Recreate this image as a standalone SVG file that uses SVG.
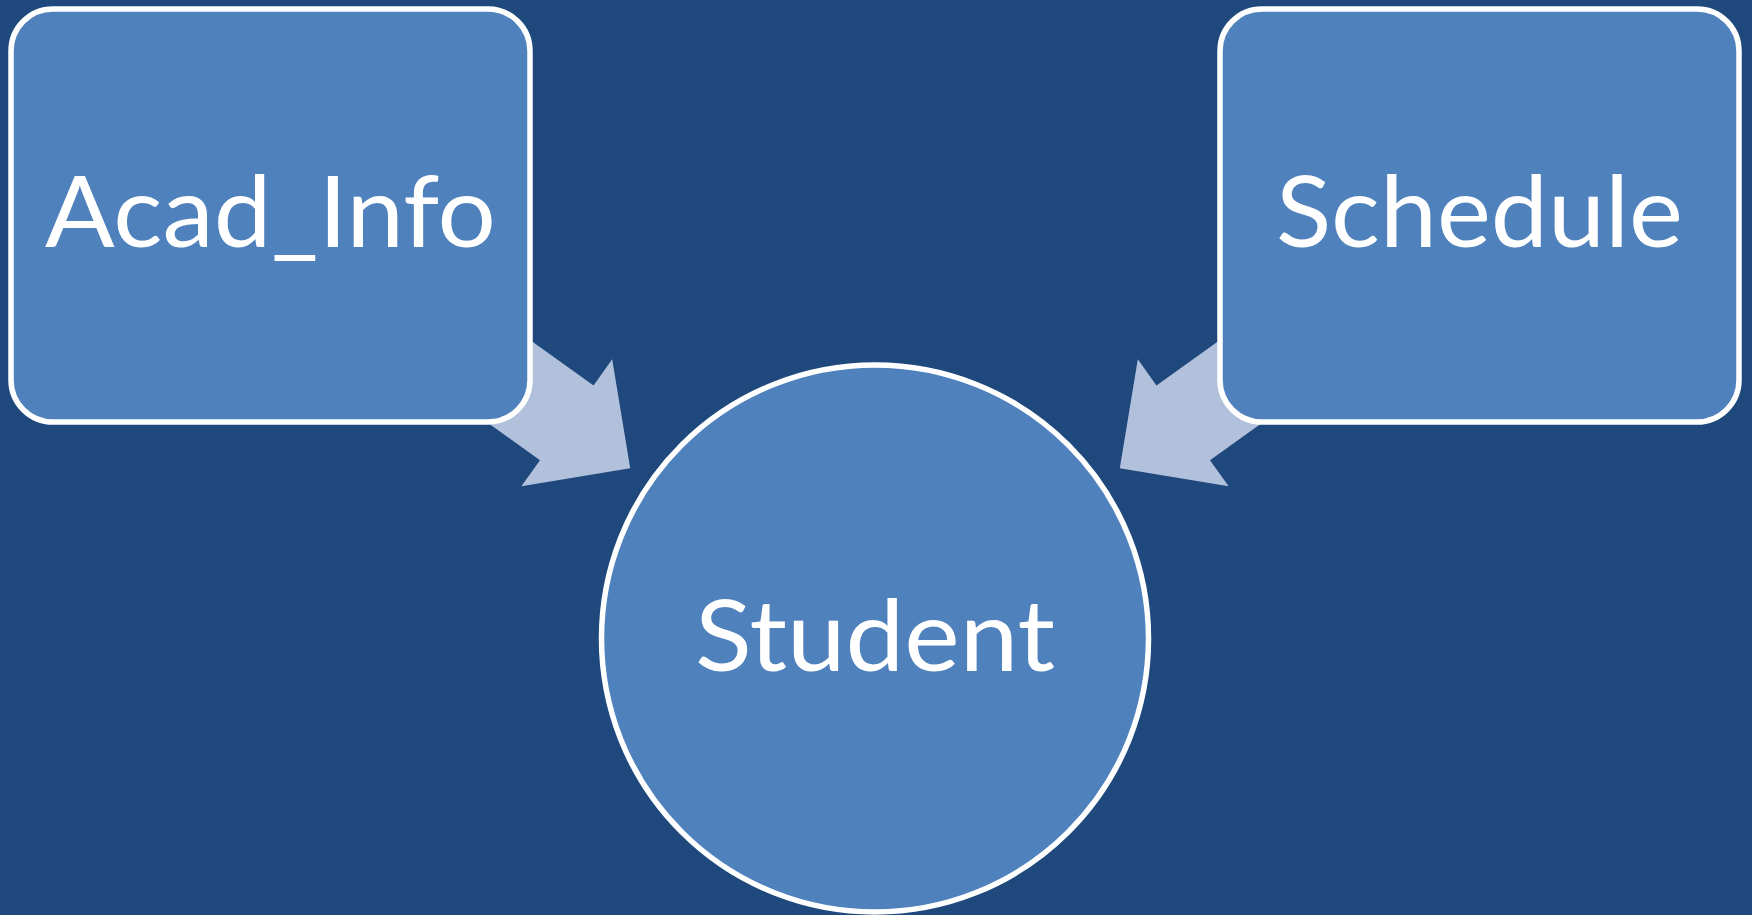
<svg xmlns="http://www.w3.org/2000/svg" width="1752" height="915" viewBox="0 0 1752 915">
  <style>
    .bg { fill: #1F497D; }
    .node { fill: #4F81BD; stroke: #FFFFFF; stroke-width: 5.5; }
    .arrow { fill: #B2C1DB; }
    .label { fill: #FFFFFF; font-family: "Lato", "Open Sans", "Liberation Sans", sans-serif; font-size: 98px; text-anchor: middle; }
  </style>
  <defs>
    <!-- block arrow pointing along +x, tip at origin -->
    <polygon id="blockArrow" points="-260,-46 -78,-46 -78,-78 0,0 -78,78 -78,46 -260,46"/>
  </defs>

  <rect class="bg" x="0" y="0" width="1752" height="915"/>

  <g id="connectors">
    <use href="#blockArrow" class="arrow" transform="translate(630.2,468.2) rotate(35.6)"/>
    <use href="#blockArrow" class="arrow" transform="translate(1119.8,468.2) rotate(144.4)"/>
  </g>

  <g id="acad-info">
    <rect class="node" x="11" y="9" width="519" height="413" rx="42" ry="42"/>
    <text class="label" x="270.5" y="247" textLength="451" lengthAdjust="spacingAndGlyphs">Acad_Info</text>
  </g>

  <g id="schedule">
    <rect class="node" x="1220" y="9" width="519" height="413" rx="42" ry="42"/>
    <text class="label" x="1479.5" y="247" textLength="407" lengthAdjust="spacingAndGlyphs">Schedule</text>
  </g>

  <g id="student">
    <circle class="node" cx="875" cy="638.5" r="273.5"/>
    <text class="label" x="875" y="671" textLength="360" lengthAdjust="spacingAndGlyphs">Student</text>
  </g>
</svg>
